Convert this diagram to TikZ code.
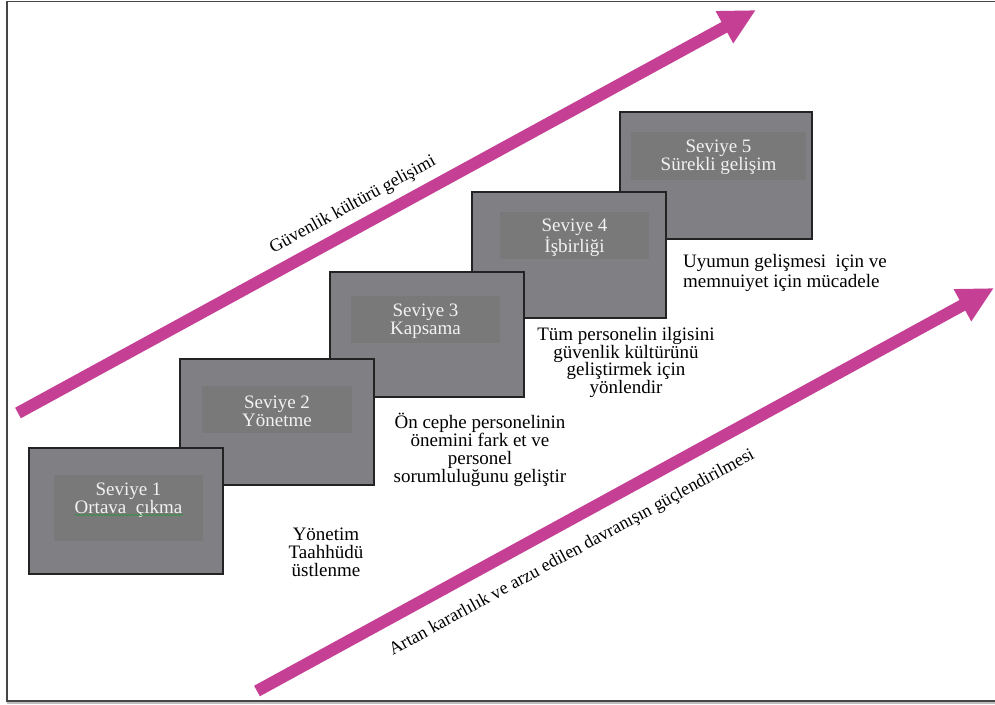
\documentclass[tikz,border=0pt]{standalone}
\usepackage{fontspec}
\setmainfont{Liberation Serif}
\usetikzlibrary{arrows.meta,decorations.pathmorphing}
\definecolor{magentaarrow}{RGB}{197,64,148}
\definecolor{boxgrey}{RGB}{128,128,132}
\definecolor{innergrey}{RGB}{122,121,121}
\definecolor{boxedge}{RGB}{35,35,35}
\definecolor{boxtext}{RGB}{242,242,242}
\definecolor{framecol}{RGB}{70,70,70}
\definecolor{spellgreen}{RGB}{40,150,60}
\begin{document}
\begin{tikzpicture}[x=1pt,y=-1pt,
  outerbox/.style={draw=boxedge, fill=boxgrey, line width=1.3pt, anchor=north west, inner sep=0pt, outer sep=0pt},
  innerbox/.style={fill=innergrey, anchor=north west, inner sep=0pt, outer sep=0pt},
  boxlabel/.style={text=boxtext, align=center, font=\rmfamily\fontsize{19}{17.8}\selectfont, inner sep=0pt},
  note/.style={text=black, align=center, font=\rmfamily\fontsize{19}{17.8}\selectfont, inner sep=0pt},
  bigarrow/.style={draw=magentaarrow, line width=12pt, line cap=butt, -{Triangle[length=36pt,width=34pt]}},
  rottext/.style={font=\rmfamily\fontsize{18}{20}\selectfont, rotate=28.6, inner sep=0pt}
]
\useasboundingbox (0,0) rectangle (995,704);
\fill[white] (0,0) rectangle (995,704);
\draw[black!25, line width=1.2pt] (7,703) -- (1000,703);
\draw[framecol, line width=1.5pt] (7,1.5) rectangle (1005,701);

% arrows
\coordinate (upS) at (18,413);
\coordinate (upE) at (756,10);
\coordinate (loS) at (257,691);
\coordinate (loE) at (994,288);
\draw[bigarrow] (upS) -- (upE);
\draw[bigarrow] (loS) -- (loE);

\node[rottext] (uptxt) at (353,205) {Güvenlik kültürü gelişimi};
\node[rottext] (lotxt) at (572,553) {Artan kararlılık ve arzu edilen davranışın güçlendirilmesi};

% level boxes (back to front)
\node[outerbox, minimum width=192pt, minimum height=127pt] (b5) at (620,112) {};
\node[innerbox, minimum width=175pt, minimum height=48pt] (i5) at (631,132) {};
\node[boxlabel] (t5) at (718.5,157.5) {Seviye 5\\Sürekli gelişim};

\node[outerbox, minimum width=194pt, minimum height=126pt] (b4) at (472,192) {};
\node[innerbox, minimum width=149pt, minimum height=47pt] (i4) at (500,212) {};
\node[boxlabel] (t4) at (574.5,237.5) {Seviye 4\\İşbirliği};

\node[outerbox, minimum width=194pt, minimum height=125pt] (b3) at (330,272) {};
\node[innerbox, minimum width=149pt, minimum height=47pt] (i3) at (351,296) {};
\node[boxlabel] (t3) at (425.5,321) {Seviye 3\\Kapsama};

\node[outerbox, minimum width=194pt, minimum height=126pt] (b2) at (180,359) {};
\node[innerbox, minimum width=150pt, minimum height=47pt] (i2) at (202,386) {};
\node[boxlabel] (t2) at (277,411) {Seviye 2\\Yönetme};

\node[outerbox, minimum width=194pt, minimum height=126pt] (b1) at (29,448) {};
\node[innerbox, minimum width=149pt, minimum height=66pt] (i1) at (54,475) {};
\node[boxlabel] (t1) at (128.5,500.5) {Seviye 1\\Ortava\ \ çıkma};
\draw[spellgreen, line width=0.6pt, decorate, decoration={snake, amplitude=0.8pt, segment length=3.5pt}] (75,515) -- (183,515);

% notes
\node[note] (n1) at (326,552.5) {Yönetim\\Taahhüdü\\üstlenme};
\node[note] (n2) at (480,450) {Ön cephe personelinin\\önemini fark et ve\\personel\\sorumluluğunu geliştir};
\node[note] (n3) at (626,362.5) {Tüm personelin ilgisini\\güvenlik kültürünü\\geliştirmek için\\yönlendir};
\node[note, align=left, anchor=west, font=\rmfamily\fontsize{19}{20}\selectfont] (n4) at (683,272.5) {Uyumun gelişmesi\ \ için ve\\memnuiyet için mücadele};
\end{tikzpicture}
\end{document}
